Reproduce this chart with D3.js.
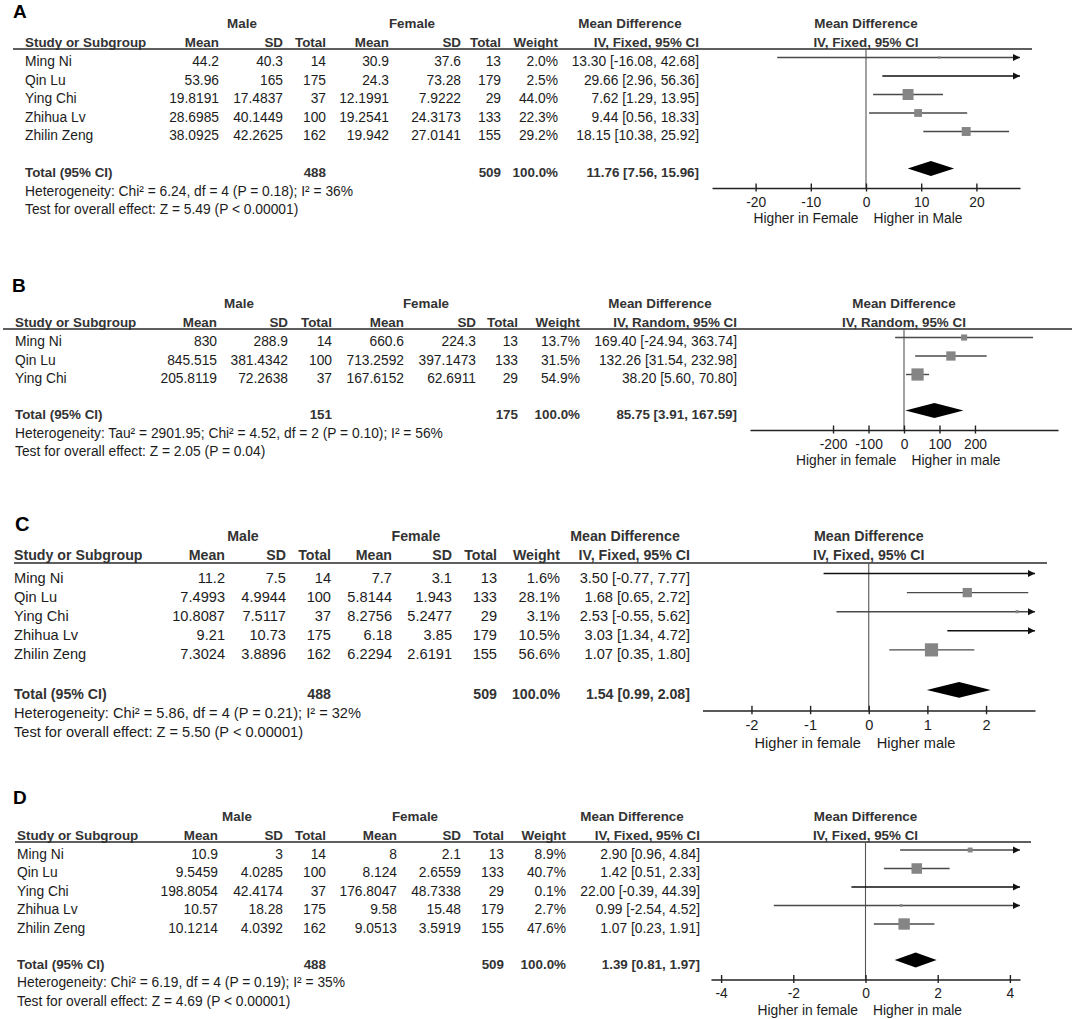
<!DOCTYPE html>
<html>
<head>
<meta charset="utf-8">
<script src="https://cdn.jsdelivr.net/npm/d3@7"></script>
<style>
body{margin:0;background:#fff;}
svg{display:block;font-family:"Liberation Sans",Arial,sans-serif;}
</style>
</head>
<body>
<div id="chart"></div>
<script>
// ******************* data section ******************
var studies5=["Ming Ni","Qin Lu","Ying Chi","Zhihua Lv","Zhilin Zeng"];
var studies3=["Ming Ni","Qin Lu","Ying Chi"];
var colHeads=["Mean","SD","Total","Mean","SD","Total","Weight"];

// A
var maleMeanA=[44.2,53.96,19.8191,28.6985,38.0925];
var maleSdA=[40.3,165,17.4837,40.1449,42.2625];
var maleNA=[14,175,37,100,162];
var femMeanA=[30.9,24.3,12.1991,19.2541,19.942];
var femSdA=[37.6,73.28,7.9222,24.3173,27.0141];
var femNA=[13,179,29,133,155];
var weightA=[2.0,2.5,44.0,22.3,29.2];
var mdA=[13.30,29.66,7.62,9.44,18.15];
var loA=[-16.08,2.96,1.29,0.56,10.38];
var hiA=[42.68,56.36,13.95,18.33,25.92];
var totalA=[11.76,7.56,15.96];
var totalNA=[488,509];
var ticksA=[-20,-10,0,10,20];
var hetA="Heterogeneity: Chi\u00b2 = 6.24, df = 4 (P = 0.18); I\u00b2 = 36%";
var testA="Test for overall effect: Z = 5.49 (P < 0.00001)";
var favA=["Higher in Female","Higher in Male"];

// B
var maleMeanB=[830,845.515,205.8119];
var maleSdB=[288.9,381.4342,72.2638];
var maleNB=[14,100,37];
var femMeanB=[660.6,713.2592,167.6152];
var femSdB=[224.3,397.1473,62.6911];
var femNB=[13,133,29];
var weightB=[13.7,31.5,54.9];
var mdB=[169.40,132.26,38.20];
var loB=[-24.94,31.54,5.60];
var hiB=[363.74,232.98,70.80];
var totalB=[85.75,3.91,167.59];
var totalNB=[151,175];
var ticksB=[-200,-100,0,100,200];
var hetB="Heterogeneity: Tau\u00b2 = 2901.95; Chi\u00b2 = 4.52, df = 2 (P = 0.10); I\u00b2 = 56%";
var testB="Test for overall effect: Z = 2.05 (P = 0.04)";
var favB=["Higher in female","Higher in male"];

// C
var maleMeanC=[11.2,7.4993,10.8087,9.21,7.3024];
var maleSdC=[7.5,4.9944,7.5117,10.73,3.8896];
var maleNC=[14,100,37,175,162];
var femMeanC=[7.7,5.8144,8.2756,6.18,6.2294];
var femSdC=[3.1,1.943,5.2477,3.85,2.6191];
var femNC=[13,133,29,179,155];
var weightC=[1.6,28.1,3.1,10.5,56.6];
var mdC=[3.50,1.68,2.53,3.03,1.07];
var loC=[-0.77,0.65,-0.55,1.34,0.35];
var hiC=[7.77,2.72,5.62,4.72,1.80];
var totalC=[1.54,0.99,2.08];
var totalNC=[488,509];
var ticksC=[-2,-1,0,1,2];
var hetC="Heterogeneity: Chi\u00b2 = 5.86, df = 4 (P = 0.21); I\u00b2 = 32%";
var testC="Test for overall effect: Z = 5.50 (P < 0.00001)";
var favC=["Higher in female","Higher male"];

// D
var maleMeanD=[10.9,9.5459,198.8054,10.57,10.1214];
var maleSdD=[3,4.0285,42.4174,18.28,4.0392];
var maleND=[14,100,37,175,162];
var femMeanD=[8,8.124,176.8047,9.58,9.0513];
var femSdD=[2.1,2.6559,48.7338,15.48,3.5919];
var femND=[13,133,29,179,155];
var weightD=[8.9,40.7,0.1,2.7,47.6];
var mdD=[2.90,1.42,22.00,0.99,1.07];
var loD=[0.96,0.51,-0.39,-2.54,0.23];
var hiD=[4.84,2.33,44.39,4.52,1.91];
var totalD=[1.39,0.81,1.97];
var totalND=[488,509];
var ticksD=[-4,-2,0,2,4];
var hetD="Heterogeneity: Chi\u00b2 = 6.19, df = 4 (P = 0.19); I\u00b2 = 35%";
var testD="Test for overall effect: Z = 4.69 (P < 0.00001)";
var favD=["Higher in female","Higher in male"];
// ************ end of data section ***********

var W=1072,H=1019;
var svg=d3.select("#chart").append("svg").attr("width",W).attr("height",H);

// layout of each panel (positions only)
var layA={letter:"A",lx:13,ly:18,line:49,x0:13,x1:1032,tx:25,cols:[219,283,326,389,461,501,558,699],
  male:242,female:412,mdHead:630,ax0:712,ax1:1020,dom:27.9,fs:13.8,fb:13.4,k:1,r1:17,step:18.5,gap:37};
var layB={letter:"B",lx:12,ly:292,line:329,x0:3,x1:1072,tx:15,cols:[217,288,332,404,476,518,580,737],
  male:239,female:426,mdHead:660,ax0:750,ax1:1058,dom:434,fs:13.8,fb:13.4,k:1,r1:17,step:18.5,gap:36};
var layC={letter:"C",lx:15,ly:531,line:563,x0:14,x1:1047,tx:14,cols:[225,286,331,392,452,497,560,690],
  male:243,female:416,mdHead:625,ax0:702.5,ax1:1035,dom:2.835,fs:14.6,fb:14.2,k:1.06,r1:19.5,step:19.1,gap:40};
var layD={letter:"D",lx:13,ly:804,line:842,x0:15,x1:1031,tx:17,cols:[218,283,326,397,461,504,566,700],
  male:237,female:415,mdHead:632,ax0:711,ax1:1020,dom:4.28,fs:13.8,fb:13.4,k:1,r1:16.5,step:18.5,gap:36};

var fmt2=function(v){return v.toFixed(2);};
var ciText=function(m,l,h){return fmt2(m)+" ["+fmt2(l)+", "+fmt2(h)+"]";};

function drawPanel(D,L){
    var k=L.k, line=L.line, n=D.names.length;
    var g=svg.append("g");
    var rowY=d3.scaleLinear().domain([0,1]).range([line+L.r1,line+L.r1+L.step]);
    var totalY=rowY(n-1)+L.gap;
    var x=d3.scaleLinear().domain([-L.dom,L.dom]).range([L.ax0,L.ax1]);
    var box=d3.scaleSqrt().domain([0,100]).range([0,16.5*k]);
    var markOff=8.5*k;

    var txt=function(px,py,s,anchor,bold,size,col){
        return g.append("text").attr("x",px).attr("y",py)
            .attr("text-anchor",anchor||"start")
            .style("font-size",(size||(bold?L.fb:L.fs))+"px")
            .style("font-weight",bold?"bold":"normal")
            .attr("fill",col||(bold?"#333":"#1c1c1c"))
            .text(s);
    };

    // headers
    txt(L.lx,L.ly,L.letter,"start",true,19*k,"#000");
    var gy=line-21*k, hy=line-2.5*k;
    txt(L.male,gy,"Male","middle",true);
    txt(L.female,gy,"Female","middle",true);
    txt(L.mdHead,gy,"Mean Difference","middle",true);
    txt(x(0),gy,"Mean Difference","middle",true);
    txt(L.tx,hy,"Study or Subgroup","start",true);
    colHeads.forEach(function(h,i){txt(L.cols[i],hy,h,"end",true);});
    txt(L.cols[7],hy,D.method,"end",true);
    txt(x(0),hy,D.method,"middle",true);

    // study rows
    D.names.forEach(function(nm,i){
        var y=rowY(i);
        txt(L.tx,y,nm);
        [D.mm[i],D.ms[i],D.mn[i],D.fm[i],D.fsd[i],D.fn[i]].forEach(function(v,j){
            txt(L.cols[j],y,String(v),"end");
        });
        txt(L.cols[6],y,D.w[i].toFixed(1)+"%","end");
        txt(L.cols[7],y,ciText(D.md[i],D.lo[i],D.hi[i]),"end");
    });

    // total row
    txt(L.tx,totalY,"Total (95% CI)","start",true);
    txt(L.cols[2],totalY,String(D.tn[0]),"end",true);
    txt(L.cols[5],totalY,String(D.tn[1]),"end",true);
    txt(L.cols[6],totalY,"100.0%","end",true);
    txt(L.cols[7],totalY,ciText(D.tot[0],D.tot[1],D.tot[2]),"end",true);
    txt(L.tx,totalY+L.step,D.het);
    txt(L.tx,totalY+2*L.step,D.test);

    // header rule
    g.append("line").attr("x1",L.x0).attr("x2",L.x1).attr("y1",line).attr("y2",line)
        .attr("stroke","#2a2a2a").attr("stroke-width",1.6);

    var axisY=totalY+11*k;
    // zero line
    g.append("line").attr("x1",x(0)).attr("x2",x(0)).attr("y1",line).attr("y2",axisY)
        .attr("stroke","#555").attr("stroke-width",1.1);

    // study CIs
    D.names.forEach(function(nm,i){
        var y=rowY(i)-markOff;
        var l=Math.max(D.lo[i],-L.dom), h=Math.min(D.hi[i],L.dom);
        var off=D.md[i]>L.dom||D.md[i]<-L.dom;
        g.append("line").attr("x1",x(l)).attr("x2",x(h)).attr("y1",y).attr("y2",y)
            .attr("stroke",off?"#111":"#4a4a4a").attr("stroke-width",1.4);
        if(D.hi[i]>L.dom){
            var t=x(L.dom);
            g.append("path").attr("d","M"+t+","+y+"L"+(t-7)+","+(y-3.5)+"L"+(t-7)+","+(y+3.5)+"Z").attr("fill","#111");
        }
        if(D.lo[i]<-L.dom){
            var t2=x(-L.dom);
            g.append("path").attr("d","M"+t2+","+y+"L"+(t2+7)+","+(y-3.5)+"L"+(t2+7)+","+(y+3.5)+"Z").attr("fill","#111");
        }
        if(!off){
            var s=Math.max(box(D.w[i]),1.6);
            g.append("rect").attr("x",x(D.md[i])-s/2).attr("y",y-s/2).attr("width",s).attr("height",s)
                .attr("fill","#858585");
        }
    });

    // pooled diamond
    var dy=totalY-markOff, hh=7.5*k;
    g.append("path")
        .attr("d","M"+x(D.tot[1])+","+dy+"L"+x(D.tot[0])+","+(dy-hh)+"L"+x(D.tot[2])+","+dy+"L"+x(D.tot[0])+","+(dy+hh)+"Z")
        .attr("fill","#000");

    // axis
    var axis=d3.axisBottom(x).tickValues(D.ticks).tickSize(0).tickSizeOuter(0).tickFormat(function(d){return String(d);});
    var ag=g.append("g").attr("transform","translate(0,"+axisY+")").call(axis)
        .attr("font-size",null).attr("font-family",null);
    ag.select(".domain").attr("stroke","#222").attr("stroke-width",1.4);
    ag.selectAll(".tick line").attr("y1",-4.5*k).attr("y2",3.5*k).attr("stroke","#222").attr("stroke-width",1.4);
    ag.selectAll(".tick text").attr("y",18.5*k).attr("dy",null)
        .style("font-size",L.fs+"px").attr("fill","#1c1c1c");

    txt(x(0)-7.5*k,axisY+35*k,D.fav[0],"end");
    txt(x(0)+7.5*k,axisY+35*k,D.fav[1],"start");
}

drawPanel({names:studies5,mm:maleMeanA,ms:maleSdA,mn:maleNA,fm:femMeanA,fsd:femSdA,fn:femNA,w:weightA,
    md:mdA,lo:loA,hi:hiA,tot:totalA,tn:totalNA,ticks:ticksA,het:hetA,test:testA,fav:favA,method:"IV, Fixed, 95% CI"},layA);
drawPanel({names:studies3,mm:maleMeanB,ms:maleSdB,mn:maleNB,fm:femMeanB,fsd:femSdB,fn:femNB,w:weightB,
    md:mdB,lo:loB,hi:hiB,tot:totalB,tn:totalNB,ticks:ticksB,het:hetB,test:testB,fav:favB,method:"IV, Random, 95% CI"},layB);
drawPanel({names:studies5,mm:maleMeanC,ms:maleSdC,mn:maleNC,fm:femMeanC,fsd:femSdC,fn:femNC,w:weightC,
    md:mdC,lo:loC,hi:hiC,tot:totalC,tn:totalNC,ticks:ticksC,het:hetC,test:testC,fav:favC,method:"IV, Fixed, 95% CI"},layC);
drawPanel({names:studies5,mm:maleMeanD,ms:maleSdD,mn:maleND,fm:femMeanD,fsd:femSdD,fn:femND,w:weightD,
    md:mdD,lo:loD,hi:hiD,tot:totalD,tn:totalND,ticks:ticksD,het:hetD,test:testD,fav:favD,method:"IV, Fixed, 95% CI"},layD);
</script>
</body>
</html>
